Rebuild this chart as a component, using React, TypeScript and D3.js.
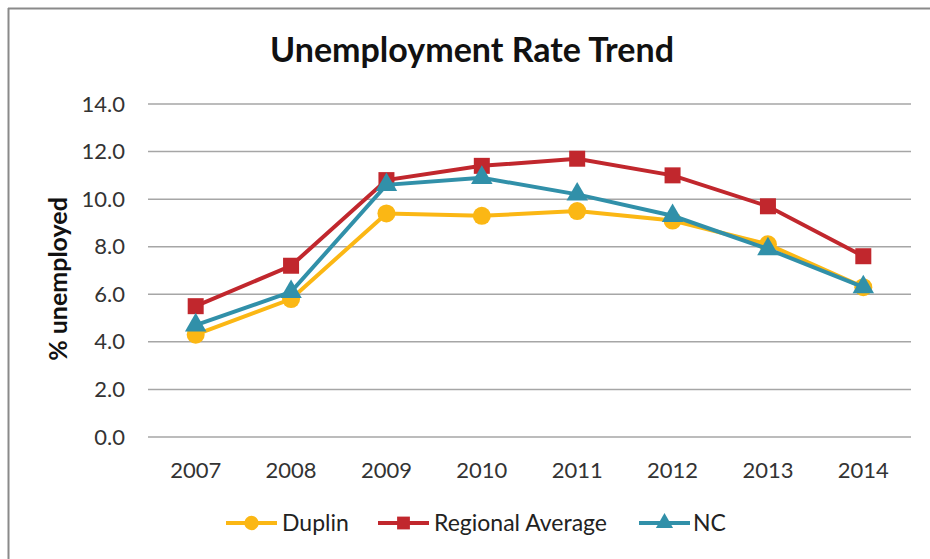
import React from "react";
import * as d3 from "d3";

const years = ["2007", "2008", "2009", "2010", "2011", "2012", "2013", "2014"];
const duplin = [4.3, 5.8, 9.4, 9.3, 9.5, 9.1, 8.1, 6.3];
const regional = [5.5, 7.2, 10.8, 11.4, 11.7, 11.0, 9.7, 7.6];
const nc = [4.7, 6.1, 10.6, 10.9, 10.2, 9.3, 7.9, 6.3];
const yTicks = [0, 2, 4, 6, 8, 10, 12, 14];

const W = 930;
const H = 559;
const FONT = "Lato, 'Open Sans', sans-serif";

export default function App() {
  const x = d3.scaleBand<string>().domain(years).range([148, 911]).padding(0);
  const y = d3.scaleLinear().domain([0, 14]).range([437, 104]);
  const cx = (yr: string) => (x(yr) as number) + x.bandwidth() / 2;
  const line = d3
    .line<number>()
    .x((_, i) => cx(years[i]))
    .y((v) => y(v));

  const series = [
    { name: "Duplin", values: duplin, color: "#FBB714", marker: "circle" },
    { name: "Regional Average", values: regional, color: "#C1272D", marker: "square" },
    { name: "NC", values: nc, color: "#3190A9", marker: "triangle" },
  ];

  const marker = (type: string, px: number, py: number, color: string, key: string, s = 1) => {
    if (type === "circle")
      return <circle key={key} cx={px} cy={py} r={9 * s} fill={color} />;
    if (type === "square")
      return <rect key={key} x={px - 8 * s} y={py - 8 * s} width={16 * s} height={16 * s} fill={color} />;
    const sym = d3.symbol().type(d3.symbolTriangle).size(200 * s * s)();
    return <path key={key} d={sym as string} transform={`translate(${px},${py})`} fill={color} />;
  };

  const legendItems = [
    { ...series[0], lx: 226, tx: 282 },
    { ...series[1], lx: 378, tx: 434 },
    { ...series[2], lx: 639, tx: 693 },
  ];

  return (
    <svg
      width={W}
      height={H}
      style={{ position: "absolute", left: 0, top: 0, background: "#fff" }}
    >
      <rect x={0} y={0} width={W} height={H} fill="#fff" />
      <line x1={8} y1={8.5} x2={W} y2={8.5} stroke="#8a8a8a" strokeWidth={2} />
      <line x1={8.5} y1={8} x2={8.5} y2={H} stroke="#8a8a8a" strokeWidth={2} />

      <text x={472} y={62} textAnchor="middle" fontFamily={FONT} fontWeight="bold" fontSize={34} fill="#111">
        Unemployment Rate Trend
      </text>

      {yTicks.map((t) => (
        <g key={t}>
          <line x1={148} x2={911} y1={y(t)} y2={y(t)} stroke="#a6a6a6" strokeWidth={1.5} />
          <text x={125} y={y(t) + 7.5} textAnchor="end" fontFamily={FONT} fontSize={22} fill="#333">
            {t.toFixed(1)}
          </text>
        </g>
      ))}

      {years.map((yr) => (
        <text key={yr} x={cx(yr)} y={478} textAnchor="middle" fontFamily={FONT} fontSize={22} fill="#333">
          {yr}
        </text>
      ))}

      <text
        transform={`translate(67,${279}) rotate(-90)`}
        textAnchor="middle"
        fontFamily={FONT}
        fontWeight="bold"
        fontSize={25}
        fill="#111"
      >
        % unemployed
      </text>

      {series.map((s) => (
        <g key={s.name}>
          <path d={line(s.values) as string} fill="none" stroke={s.color} strokeWidth={4} />
          {s.values.map((v, i) => marker(s.marker, cx(years[i]), y(v), s.color, `${s.name}-${i}`))}
        </g>
      ))}

      {legendItems.map((it) => (
        <g key={it.name}>
          <line x1={it.lx} x2={it.lx + 51} y1={523} y2={523} stroke={it.color} strokeWidth={4} />
          {marker(it.marker, it.lx + 25.5, 523, it.color, it.name + "-lg", 0.8)}
          <text x={it.tx} y={531} fontFamily={FONT} fontSize={23} fill="#222">
            {it.name}
          </text>
        </g>
      ))}
    </svg>
  );
}
